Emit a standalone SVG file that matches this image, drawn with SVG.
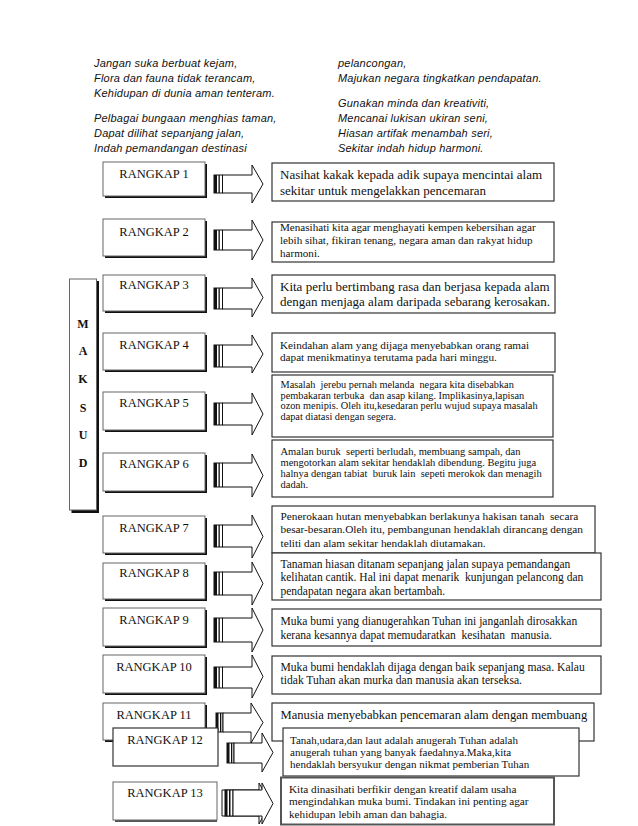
<svg xmlns="http://www.w3.org/2000/svg" width="638" height="826" viewBox="0 0 638 826">
<style>
text{fill:#111;white-space:pre}
.poem{font-family:"Liberation Sans",Arial,sans-serif;font-style:italic;font-size:11px;letter-spacing:0.2px}
.lbl{font-family:"Liberation Serif","Times New Roman",serif;font-size:12.5px;text-anchor:middle}
.t13{font-family:"Liberation Serif","Times New Roman",serif;font-size:13px}
.t11{font-family:"Liberation Serif","Times New Roman",serif;font-size:11px}
.t10{font-family:"Liberation Serif","Times New Roman",serif;font-size:10.3px}
.mk{font-family:"Liberation Serif","Times New Roman",serif;font-size:12px;font-weight:bold;text-anchor:middle}
.shd{fill:#111}
.box{fill:#fff;stroke:#666;stroke-width:1}
.tb{fill:#fff;stroke:#333;stroke-width:1.2}
.arr{fill:#fff;stroke:#111;stroke-width:1}
.bar{fill:#111}
</style>
<rect width="638" height="826" fill="#fff"/>

<g id="poem">
<text class="poem" x="94" y="67">Jangan suka berbuat kejam,</text>
<text class="poem" x="94" y="82">Flora dan fauna tidak terancam,</text>
<text class="poem" x="94" y="97">Kehidupan di dunia aman tenteram.</text>
<text class="poem" x="94" y="122">Pelbagai bungaan menghias taman,</text>
<text class="poem" x="94" y="137">Dapat dilihat sepanjang jalan,</text>
<text class="poem" x="94" y="152">Indah pemandangan destinasi</text>
<text class="poem" x="338" y="67">pelancongan,</text>
<text class="poem" x="338" y="82">Majukan negara tingkatkan pendapatan.</text>
<text class="poem" x="338" y="107">Gunakan minda dan kreativiti,</text>
<text class="poem" x="338" y="122">Mencanai lukisan ukiran seni,</text>
<text class="poem" x="338" y="137">Hiasan artifak menambah seri,</text>
<text class="poem" x="338" y="152">Sekitar indah hidup harmoni.</text>
</g>

<g id="maksud">
<rect class="shd" x="71.5" y="281" width="27.5" height="232"/>
<rect class="box" x="69.5" y="279" width="27" height="231"/>
<text class="mk" x="83" y="327.5">M</text>
<text class="mk" x="83" y="354.5">A</text>
<text class="mk" x="83" y="382.5">K</text>
<text class="mk" x="83" y="411.5">S</text>
<text class="mk" x="83" y="438.5">U</text>
<text class="mk" x="83" y="467">D</text>
</g>

<g id="connectors">
<rect class="arr" x="214" y="175" width="8.5" height="18"/><rect class="bar" x="214" y="175" width="3" height="18"/><rect class="bar" x="218.5" y="175" width="1.3" height="18"/>
<polygon class="arr" points="222.5,175 252,175 252,165 263,184 252,203 252,193 222.5,193"/>
<rect class="arr" x="214" y="230" width="8.5" height="20"/><rect class="bar" x="214" y="230" width="3" height="20"/><rect class="bar" x="218.5" y="230" width="1.3" height="20"/>
<polygon class="arr" points="222.5,230 252,230 252,220 263,240 252,260 252,250 222.5,250"/>
<rect class="arr" x="214" y="288" width="8.5" height="21"/><rect class="bar" x="214" y="288" width="3" height="21"/><rect class="bar" x="218.5" y="288" width="1.3" height="21"/>
<polygon class="arr" points="222.5,288 252,288 252,278 263,297.5 252,317 252,309 222.5,309"/>
<rect class="arr" x="214" y="345" width="8.5" height="22"/><rect class="bar" x="214" y="345" width="3" height="22"/><rect class="bar" x="218.5" y="345" width="1.3" height="22"/>
<polygon class="arr" points="222.5,345 252,345 252,335 263,354 252,373 252,367 222.5,367"/>
<rect class="arr" x="214" y="403" width="8.5" height="22"/><rect class="bar" x="214" y="403" width="3" height="22"/><rect class="bar" x="218.5" y="403" width="1.3" height="22"/>
<polygon class="arr" points="222.5,403 252,403 252,393 263,414 252,435 252,425 222.5,425"/>
<rect class="arr" x="214" y="463" width="8.5" height="24"/><rect class="bar" x="214" y="463" width="3" height="24"/><rect class="bar" x="218.5" y="463" width="1.3" height="24"/>
<polygon class="arr" points="222.5,463 252,463 252,454 263,475.5 252,497 252,487 222.5,487"/>
<rect class="arr" x="214" y="525" width="8.5" height="22"/><rect class="bar" x="214" y="525" width="3" height="22"/><rect class="bar" x="218.5" y="525" width="1.3" height="22"/>
<polygon class="arr" points="222.5,525 252,525 252,515 263,536.5 252,558 252,547 222.5,547"/>
<rect class="arr" x="214" y="572" width="8.5" height="23"/><rect class="bar" x="214" y="572" width="3" height="23"/><rect class="bar" x="218.5" y="572" width="1.3" height="23"/>
<polygon class="arr" points="222.5,572 252,572 252,562 263,583.5 252,605 252,595 222.5,595"/>
<rect class="arr" x="214" y="618" width="8.5" height="24"/><rect class="bar" x="214" y="618" width="3" height="24"/><rect class="bar" x="218.5" y="618" width="1.3" height="24"/>
<polygon class="arr" points="222.5,618 252,618 252,608 263,630 252,652 252,642 222.5,642"/>
<rect class="arr" x="214" y="667" width="8.5" height="21"/><rect class="bar" x="214" y="667" width="3" height="21"/><rect class="bar" x="218.5" y="667" width="1.3" height="21"/>
<polygon class="arr" points="222.5,667 252,667 252,655 263,676.5 252,698 252,688 222.5,688"/>
</g>

<g id="rangkap1"><rect class="shd" x="105" y="164" width="102" height="34"/><rect class="box" x="103" y="162" width="102" height="34"/><text class="lbl" x="154" y="177.5">RANGKAP 1</text></g>
<g id="rangkap2"><rect class="shd" x="105" y="221" width="102" height="37"/><rect class="box" x="103" y="219" width="102" height="37"/><text class="lbl" x="154" y="235.7">RANGKAP 2</text></g>
<g id="rangkap3"><rect class="shd" x="105" y="277" width="102" height="36"/><rect class="box" x="103" y="275" width="102" height="36"/><text class="lbl" x="154" y="289">RANGKAP 3</text></g>
<g id="rangkap4"><rect class="shd" x="105" y="335" width="102" height="37"/><rect class="box" x="103" y="333" width="102" height="37"/><text class="lbl" x="154" y="349">RANGKAP 4</text></g>
<g id="rangkap5"><rect class="shd" x="105" y="394" width="102" height="38"/><rect class="box" x="103" y="392" width="102" height="38"/><text class="lbl" x="154" y="407.3">RANGKAP 5</text></g>
<g id="rangkap6"><rect class="shd" x="105" y="455" width="102" height="38"/><rect class="box" x="103" y="453" width="102" height="38"/><text class="lbl" x="154" y="468">RANGKAP 6</text></g>
<g id="rangkap7"><rect class="shd" x="105" y="518" width="102" height="37"/><rect class="box" x="103" y="516" width="102" height="37"/><text class="lbl" x="154" y="532.3">RANGKAP 7</text></g>
<g id="rangkap8"><rect class="shd" x="105" y="565" width="102" height="36"/><rect class="box" x="103" y="563" width="102" height="36"/><text class="lbl" x="154" y="577.3">RANGKAP 8</text></g>
<g id="rangkap9"><rect class="shd" x="105" y="610" width="102" height="38"/><rect class="box" x="103" y="608" width="102" height="38"/><text class="lbl" x="154" y="624">RANGKAP 9</text></g>
<g id="rangkap10"><rect class="shd" x="105" y="657" width="102" height="38"/><rect class="box" x="103" y="655" width="102" height="38"/><text class="lbl" x="154" y="670.7">RANGKAP 10</text></g>

<g id="maksud1"><rect class="tb" x="272" y="163" width="282" height="38"/>
<text class="t13" x="280" y="178.5">Nasihat kakak kepada adik supaya mencintai alam</text>
<text class="t13" x="280" y="195">sekitar untuk mengelakkan pencemaran</text></g>
<g id="maksud2"><rect class="tb" x="272" y="222" width="282" height="40"/>
<text class="t11" x="280" y="231" style="font-size:11.1px">Menasihati kita agar menghayati kempen kebersihan agar</text>
<text class="t11" x="280" y="244" style="font-size:11.1px">lebih sihat, fikiran tenang, negara aman dan rakyat hidup</text>
<text class="t11" x="280" y="257" style="font-size:11.1px">harmoni.</text></g>
<g id="maksud3"><rect class="tb" x="272" y="275" width="283" height="38"/>
<text class="t13" x="280" y="290.5">Kita perlu bertimbang rasa dan berjasa kepada alam</text>
<text class="t13" x="280" y="305.5">dengan menjaga alam daripada sebarang kerosakan.</text></g>
<g id="maksud4"><rect class="tb" x="272" y="333" width="283" height="39"/>
<text class="t11" x="280" y="348.5" style="font-size:11.2px">Keindahan alam yang dijaga menyebabkan orang ramai</text>
<text class="t11" x="280" y="361" style="font-size:11.2px">dapat menikmatinya terutama pada hari minggu.</text></g>
<g id="maksud5"><rect class="tb" x="272" y="375" width="281" height="62"/>
<text class="t10" x="280.5" y="388">Masalah  jerebu pernah melanda  negara kita disebabkan</text>
<text class="t10" x="280.5" y="398.7">pembakaran terbuka  dan asap kilang. Implikasinya,lapisan</text>
<text class="t10" x="280.5" y="409.2">ozon menipis. Oleh itu,kesedaran perlu wujud supaya masalah</text>
<text class="t10" x="280.5" y="419.8">dapat diatasi dengan segera.</text></g>
<g id="maksud6"><rect class="tb" x="272" y="440" width="281" height="57"/>
<text class="t10" x="280.5" y="454.5" style="font-size:10.5px">Amalan buruk  seperti berludah, membuang sampah, dan</text>
<text class="t10" x="280.5" y="465.5" style="font-size:10.5px">mengotorkan alam sekitar hendaklah dibendung. Begitu juga</text>
<text class="t10" x="280.5" y="476.5" style="font-size:10.5px">halnya dengan tabiat  buruk lain  sepeti merokok dan menagih</text>
<text class="t10" x="280.5" y="487.5" style="font-size:10.5px">dadah.</text></g>
<g id="maksud7"><rect class="tb" x="272" y="506" width="323" height="47"/>
<text class="t11" x="280.5" y="519.5" style="font-size:11.3px">Penerokaan hutan menyebabkan berlakunya hakisan tanah  secara</text>
<text class="t11" x="280.5" y="533" style="font-size:11.3px">besar-besaran.Oleh itu, pembangunan hendaklah dirancang dengan</text>
<text class="t11" x="280.5" y="547" style="font-size:11.3px">teliti dan alam sekitar hendaklah diutamakan.</text></g>
<g id="maksud8"><rect class="tb" x="272" y="553" width="329" height="47"/>
<text class="t11" x="280.5" y="568" style="font-size:11.5px">Tanaman hiasan ditanam sepanjang jalan supaya pemandangan</text>
<text class="t11" x="280.5" y="581" style="font-size:11.5px">kelihatan cantik. Hal ini dapat menarik  kunjungan pelancong dan</text>
<text class="t11" x="280.5" y="594.5" style="font-size:11.5px">pendapatan negara akan bertambah.</text></g>
<g id="maksud9"><rect class="tb" x="272" y="609" width="329" height="37"/>
<text class="t11" x="280.5" y="625" style="font-size:11.5px">Muka bumi yang dianugerahkan Tuhan ini janganlah dirosakkan</text>
<text class="t11" x="280.5" y="638.5" style="font-size:11.5px">kerana kesannya dapat memudaratkan  kesihatan  manusia.</text></g>
<g id="maksud10"><rect class="tb" x="272" y="656" width="329" height="38"/>
<text class="t11" x="280.5" y="671" style="font-size:11.6px">Muka bumi hendaklah dijaga dengan baik sepanjang masa. Kalau</text>
<text class="t11" x="280.5" y="684" style="font-size:11.6px">tidak Tuhan akan murka dan manusia akan terseksa.</text></g>

<g id="rangkap11"><rect class="shd" x="105" y="705" width="102" height="37"/><rect class="box" x="103" y="703" width="102" height="37"/><text class="lbl" x="154" y="719">RANGKAP 11</text></g>
<g id="arrow11">
<rect class="arr" x="216" y="713" width="7" height="19"/><rect class="bar" x="216" y="713" width="2.5" height="19"/><rect class="bar" x="220" y="713" width="1.3" height="19"/>
<polygon class="arr" points="223,713 251,713 251,703 263,722.5 251,743 251,732 223,732"/>
</g>
<g id="maksud11"><rect class="tb" x="272" y="703" width="322" height="38"/>
<text class="t13" x="280.5" y="718.5" style="font-size:12.6px">Manusia menyebabkan pencemaran alam dengan membuang</text></g>

<g id="rangkap12"><rect class="tb" x="113" y="728" width="105" height="38"/><text class="lbl" x="165" y="744">RANGKAP 12</text></g>
<g id="arrow12">
<rect class="arr" x="227" y="743" width="7" height="20"/><rect class="bar" x="227" y="743" width="2.5" height="20"/><rect class="bar" x="231" y="743" width="1.3" height="20"/>
<polygon class="arr" points="234,743 262,743 262,733 273,752.5 262,772 262,763 234,763"/>
</g>
<g id="maksud12"><rect class="tb" x="283" y="728" width="296" height="48"/>
<text class="t11" x="290" y="743.5">Tanah,udara,dan laut adalah anugerah Tuhan adalah</text>
<text class="t11" x="290" y="755.5">anugerah tuhan yang banyak faedahnya.Maka,kita</text>
<text class="t11" x="290" y="767.5">hendaklah bersyukur dengan nikmat pemberian Tuhan</text></g>

<g id="rangkap13"><rect x="115" y="784" width="102" height="38" fill="#555"/><rect class="box" x="113" y="782" width="104" height="38"/><text class="lbl" x="165" y="797">RANGKAP 13</text></g>
<g id="arrow13">
<polygon class="arr" points="222,790 259,790 259,783 270,803.5 259,824 259,816 222,816"/>
<rect class="arr" x="225" y="790" width="8" height="26"/><rect class="bar" x="225" y="790" width="2.5" height="26"/><rect class="bar" x="229" y="790" width="1.5" height="26"/>
<polygon class="arr" points="233,790 262,790 262,783 273,803.5 262,824 262,816 233,816"/>
</g>
<g id="maksud13"><rect x="281" y="777.5" width="273" height="47" fill="#fff" stroke="#555" stroke-width="2"/>
<text class="t11" x="289" y="792.5" style="font-size:11.2px">Kita dinasihati berfikir dengan kreatif dalam usaha</text>
<text class="t11" x="289" y="805" style="font-size:11.2px">mengindahkan muka bumi. Tindakan ini penting agar</text>
<text class="t11" x="289" y="817.5" style="font-size:11.2px">kehidupan lebih aman dan bahagia.</text></g>
</svg>
